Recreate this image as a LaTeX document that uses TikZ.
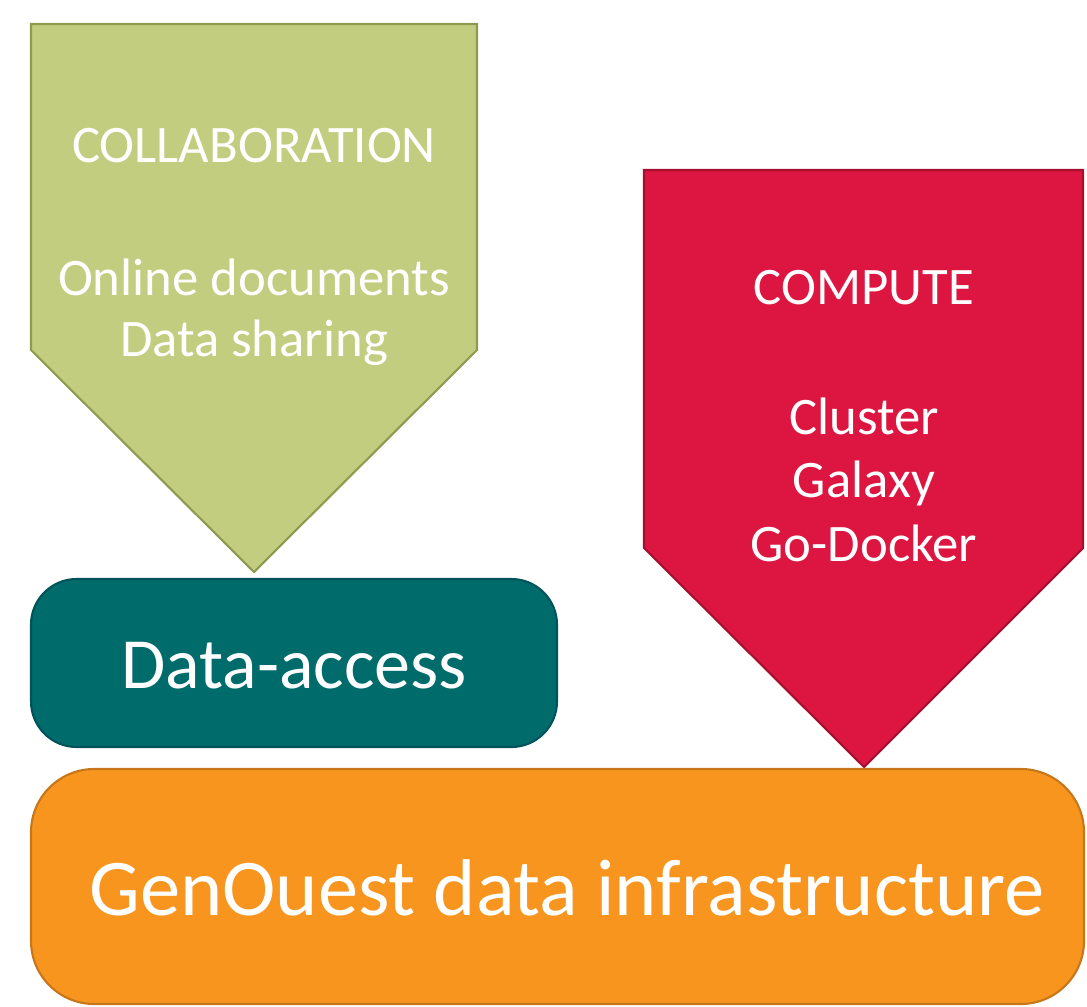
\documentclass[tikz,border=0pt]{standalone}
\usepackage{fontspec}
\setmainfont{Carlito}
\usetikzlibrary{positioning}

\definecolor{collabfill}{HTML}{C3CD80}
\definecolor{collabline}{HTML}{8E9A50}
\definecolor{computefill}{HTML}{DC1640}
\definecolor{computeline}{HTML}{A5102F}
\definecolor{accessfill}{HTML}{006B6B}
\definecolor{accessline}{HTML}{00535A}
\definecolor{infrafill}{HTML}{F7951F}
\definecolor{infraline}{HTML}{C8761A}

\tikzset{
	shp/.style={line width=1.2pt, line join=miter},
	txt/.style={text=white, anchor=base, inner sep=0pt, align=center},
	small/.style={txt, font=\fontsize{30}{36}\selectfont},
}

\begin{document}
\begin{tikzpicture}[x=0.02cm, y=-0.02cm]

	\useasboundingbox (0,0) rectangle (1087,1006);
	\clip (0,0) rectangle (1087,1006);

	% the two pentagon arrows
	\draw[shp, fill=collabfill, draw=collabline]
		(31,24) -- (477,24) -- (477,350) -- (254,572) -- (31,350) -- cycle;
	\draw[shp, fill=computefill, draw=computeline]
		(644,170) -- (1083,170) -- (1083,548) -- (864,767) -- (644,548) -- cycle;

	% boxes
	\draw[shp, fill=accessfill, draw=accessline, rounded corners=26]
		(31,579) rectangle (557,747);
	\draw[shp, fill=infrafill, draw=infraline, rounded corners=36]
		(31,769) rectangle (1084,1004);

	% texts (base of a multi-line node = its last line)
	\node[small] (collab) at (254,163) {COLLABORATION};
	\node[small, font=\fontsize{30}{35}\selectfont] (online) at (254,357) {Online documents\\Data sharing};
	\node[small] (compute) at (864,305) {COMPUTE};
	\node[small] (tools) at (864,561) {Cluster\\Galaxy\\Go-Docker};
	\node[txt, font=\fontsize{41}{48}\selectfont] (access) at (294,688) {Data-access};
	\node[txt, font=\fontsize{45.8}{54}\selectfont] (infra) at (567,915) {GenOuest data infrastructure};

\end{tikzpicture}
\end{document}
